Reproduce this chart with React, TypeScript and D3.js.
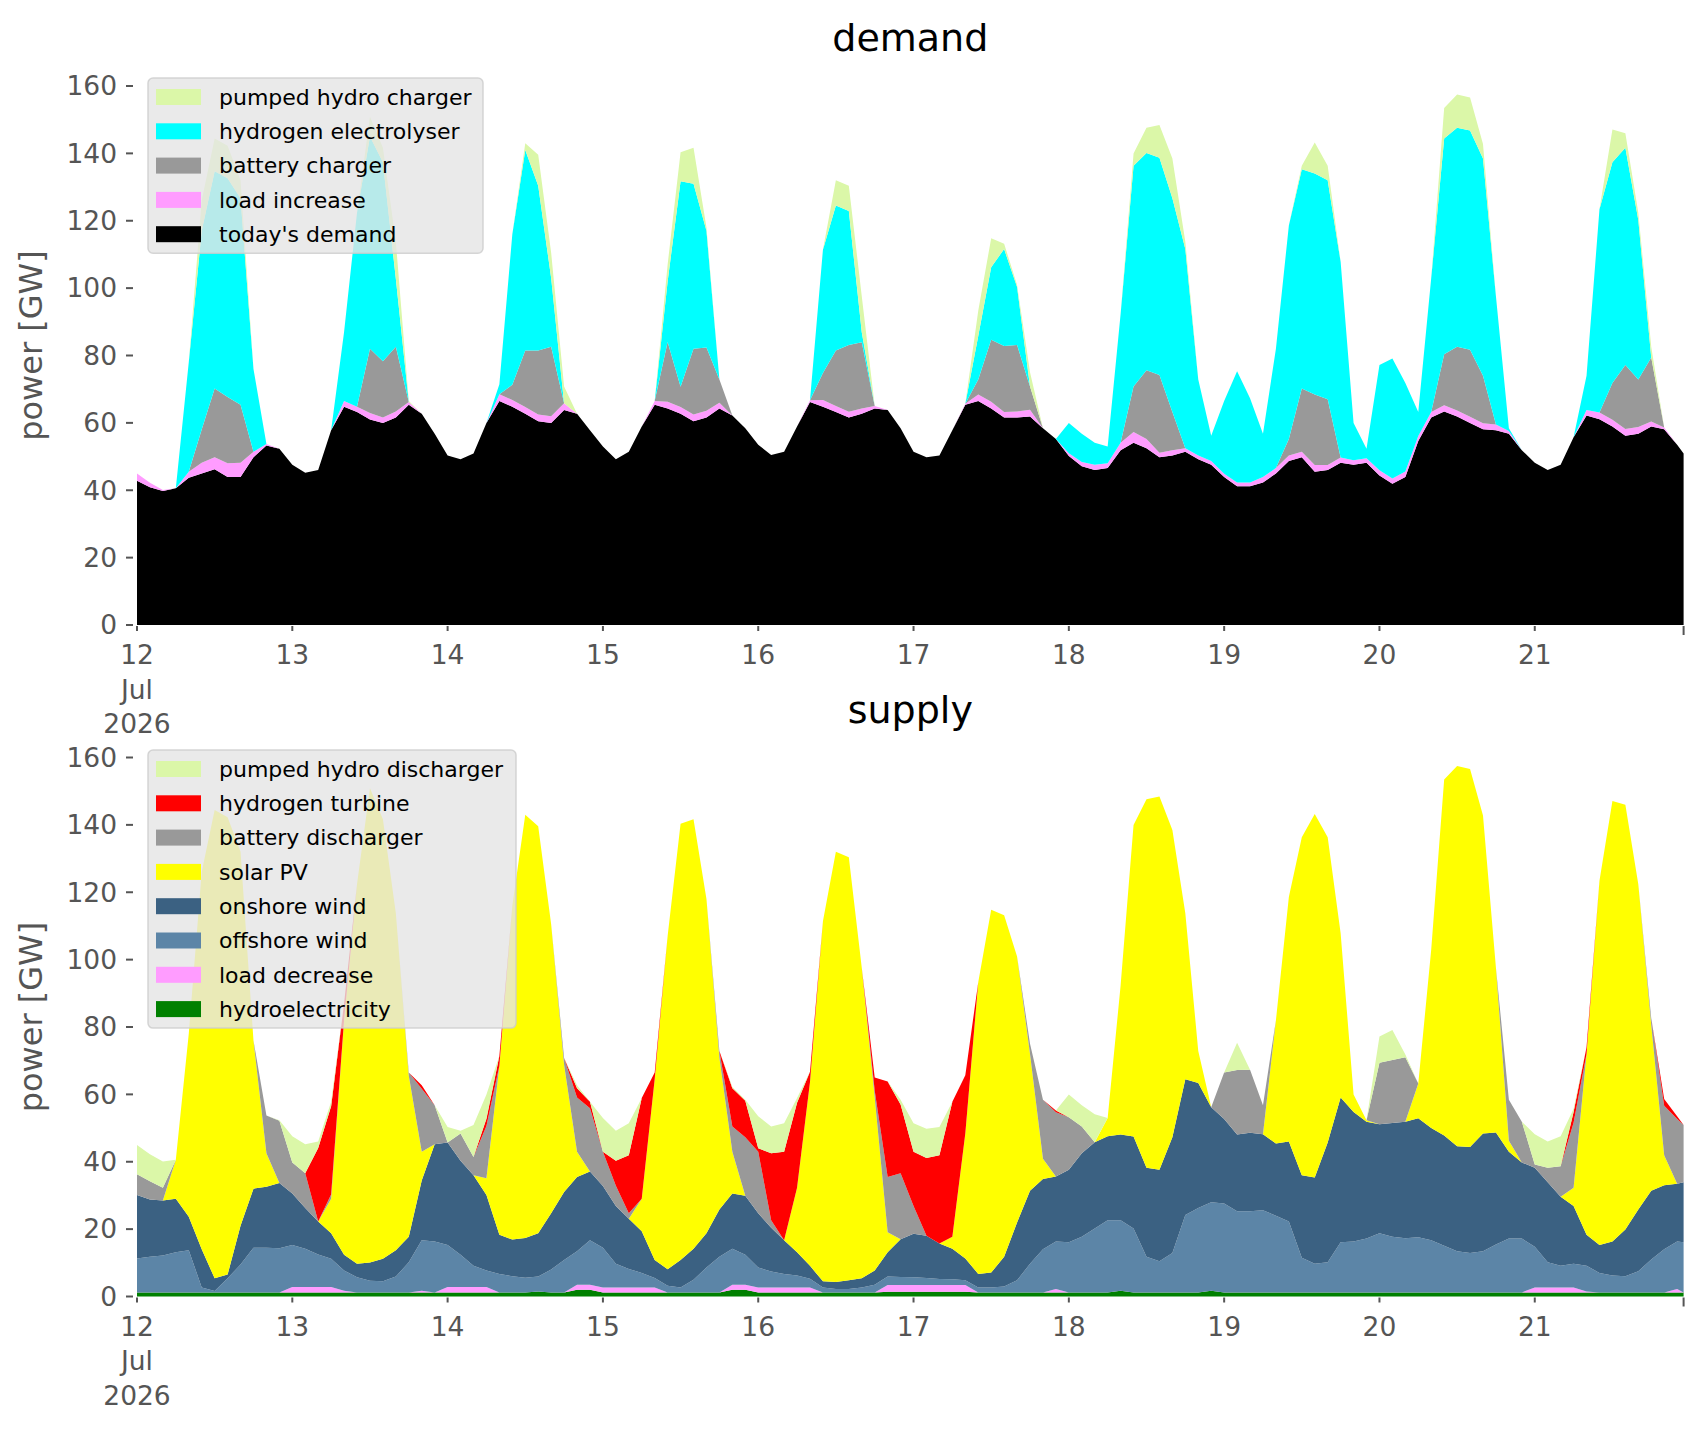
import { useRef, useEffect } from 'react';
import * as d3 from 'd3';

// snapshots read every two hours, plus the last hour of the window
const hours = [...d3.range(0, 240, 2), 239];
const start = Date.UTC(2026, 6, 12);
const times = hours.map(h => new Date(start + h * 3600 * 1000));
const dayTicks = d3.range(0, 10).map(d => new Date(start + d * 24 * 3600 * 1000));
const yTicks = d3.range(0, 161, 20);

// ---- demand (GW), one row per day ----
const todaysDemand = [
    42.8, 40.9, 39.8, 40.6, 43.7, 45, 46.2, 43.9, 43.9, 49.8, 53.3, 52.3,
    47.6, 45.2, 46, 57.8, 64.8, 63.2, 61, 60, 61.6, 65.4, 62.7, 56.8,
    50.3, 49.2, 50.9, 60, 66.5, 64.8, 62.7, 60.5, 60, 63.8, 62.7, 57.8,
    53, 49.2, 51.4, 58.9, 65.4, 64.3, 62.7, 60.5, 61.6, 64.3, 62.2, 58.4,
    53.5, 50.5, 51.4, 58.9, 66.2, 64.8, 63.2, 61.6, 62.7, 64.3, 63.8, 58.4,
    51.4, 49.8, 50.3, 57.8, 65.4, 66.5, 64.3, 61.6, 61.6, 61.9, 58.4, 55.2,
    50.2, 47.1, 46, 46.6, 51.9, 54.1, 52.5, 49.8, 50.3, 51.4, 49.2, 47.6,
    43.9, 41.2, 41.2, 42.3, 45, 48.7, 49.8, 45.5, 46, 48.2, 47.6, 48.2,
    44.4, 41.9, 43.9, 54.6, 61.6, 63.4, 61.9, 60, 58.1, 57.8, 56.8, 51.9,
    48.2, 46, 47.6, 55.7, 62.2, 61.1, 58.9, 56.2, 56.8, 58.9, 58.1, 53.5, 50.9,
];
const loadIncrease = [
    2.2, 1.3, 0.3, 0, 1.8, 3.2, 3.6, 4.1, 4.3, 1.6, 0.4, 0,
    0, 0, 0, 0, 1.7, 1.6, 1.9, 1.6, 1.8, 0.8, 0, 0,
    0, 0, 0, 0, 2, 2, 2, 2, 2, 2, 0, 0,
    0, 0, 0, 0, 1.1, 2, 2, 2, 2, 1.7, 0, 0,
    0, 0, 0, 0, 0.5, 2, 1.8, 1.7, 1.6, 0.7, 0, 0,
    0, 0, 0, 0, 0.3, 1.9, 2, 1.6, 1.8, 2, 0, 0,
    0.8, 1.3, 1.6, 1.4, 2.2, 3.2, 2.7, 1.3, 1.6, 1.1, 1.1, 1.1,
    1, 1.1, 1.1, 1.6, 1.6, 1.6, 1.6, 2, 1.5, 1.5, 1.3, 1.3,
    1.5, 1.6, 1.7, 1.5, 1.6, 1.8, 1.8, 1.8, 1.8, 1.7, 0.8, 0,
    0, 0, 0, 0, 1.6, 2, 2, 2, 2, 1.5, 0.5, 0, 0,
];
const batteryCharger = [
    0, 0, 0, 0, 0, 9.8, 20.4, 19.7, 17.2, 0, 0, 0,
    0, 0, 0, 0, 0, 0, 19.1, 16.7, 19.2, 0, 0, 0,
    0, 0, 0, 0, 0, 4.5, 16.8, 19, 20.6, 0, 0, 0,
    0, 0, 0, 0, 0, 17.7, 6, 19.5, 18.8, 6.9, 0, 0,
    0, 0, 0, 0, 0, 8, 16.5, 19.8, 19.6, 0, 0, 0,
    0, 0, 0, 0, 0, 4.5, 18.4, 19.6, 19.7, 6.9, 0, 0,
    0, 0, 0, 0, 0, 13.5, 20.4, 23.1, 11.3, 0, 0, 0,
    0, 0, 0, 0, 0, 4.9, 18.8, 20.9, 19.5, 0, 0, 0,
    0, 0, 0, 0, 0, 15.2, 18.9, 19.9, 14.1, 0, 0, 0,
    0, 0, 0, 0, 0, 0, 10.9, 19, 14.1, 19, 0, 0, 0,
];
const hydrogenElectrolyser = [
    0, 0, 0, 0, 32.5, 59, 64.5, 64.9, 61.3, 24.6, 0, 0,
    0, 0, 0, 0, 20.5, 57.6, 63, 59.1, 20.2, 0, 0, 0,
    0, 0, 0, 0, 3, 44.7, 59.5, 48.9, 20.4, 0, 0, 0,
    0, 0, 0, 0, 0, 18, 61, 49, 34.6, 0, 0, 0,
    0, 0, 0, 0, 0, 36.6, 43, 39.8, 3, 0, 0, 0,
    0, 0, 0, 0, 0, 12.9, 21.5, 28.8, 17.2, 0, 0, 0,
    9, 8.4, 6.5, 5, 38.2, 65.5, 64.5, 64.5, 63.5, 59.1, 22.6, 7.5,
    21.6, 33, 25, 12.9, 35.4, 63.4, 65.1, 65.6, 65, 58.1, 11.1, 2.8,
    31.3, 35.6, 26.2, 7.1, 39.8, 64, 65, 65.1, 64.5, 38.1, 0.8, 0,
    0, 0, 0, 0, 10.2, 60.3, 65.6, 64.5, 47.3, 0, 0, 0, 0,
];
const pumpedHydroCharger = [
    0, 0, 0, 0, 0, 9, 9.7, 9.7, 5.3, 0, 0, 0,
    0, 0, 0, 0, 0, 0, 5.9, 4.3, 11, 0.3, 0, 0,
    0, 0, 0, 0, 0, 0, 2, 9.2, 7.5, 5, 0, 0,
    0, 0, 0, 0, 0, 5, 8.6, 10.7, 1, 0, 0, 0,
    0, 0, 0, 0, 0, 0, 7.5, 7.5, 10.7, 0, 0, 0,
    0, 0, 0, 0, 0, 7.5, 8.6, 1.6, 0.6, 4.2, 0, 0,
    0, 0, 0, 0, 0, 3.7, 7.5, 9.7, 11.8, 2.2, 0, 0,
    0, 0, 0, 0, 0, 0, 1, 9.2, 4.3, 0, 0, 0,
    0, 0, 0, 0, 0, 9.1, 9.9, 9.8, 4.3, 0, 0, 0,
    0, 0, 0, 0, 0, 0, 9.7, 4.3, 2.2, 3.2, 0, 0, 0,
];

// ---- supply (GW) ----
const hydroelectricity = [
    1.2, 1.2, 1.2, 1.2, 1.2, 1.2, 1.2, 1.2, 1.2, 1.2, 1.2, 1.2,
    1.2, 1.2, 1.2, 1.2, 1.2, 1.2, 1.2, 1.2, 1.2, 1.2, 1.2, 1.2,
    1.2, 1.2, 1.2, 1.2, 1.2, 1.2, 1.2, 1.5, 1.2, 1.2, 2, 2,
    1.2, 1.2, 1.2, 1.2, 1.2, 1.2, 1.2, 1.2, 1.2, 1.2, 2, 2,
    1.2, 1.2, 1.2, 1.2, 1.2, 1.2, 1.2, 1.2, 1.2, 1.2, 1.4, 1.4,
    1.4, 1.4, 1.4, 1.4, 1.4, 1.2, 1.2, 1.2, 1.2, 1.2, 1.2, 1.2,
    1.2, 1.2, 1.2, 1.2, 1.7, 1.2, 1.2, 1.2, 1.2, 1.2, 1.2, 1.7,
    1.2, 1.2, 1.2, 1.2, 1.2, 1.2, 1.2, 1.2, 1.2, 1.2, 1.2, 1.2,
    1.2, 1.2, 1.2, 1.2, 1.2, 1.2, 1.2, 1.2, 1.2, 1.2, 1.2, 1.2,
    1.2, 1.2, 1.2, 1.2, 1.2, 1.2, 1.2, 1.2, 1.2, 1.2, 1.2, 1.2, 1.2,
];
const loadDecrease = [
    0, 0, 0, 0, 0, 0, 0, 0, 0, 0, 0, 0,
    1.6, 1.6, 1.6, 1.6, 0.5, 0, 0, 0, 0, 0, 0.5, 0,
    1.6, 1.6, 1.6, 1.6, 0, 0, 0, 0, 0, 0, 1.5, 1.5,
    1.5, 1.5, 1.5, 1.5, 1.5, 0, 0, 0, 0, 0, 1.5, 1.5,
    1.5, 1.5, 1.5, 1.5, 1.5, 0, 0, 0, 0, 0, 2, 2,
    2, 2, 2, 2, 2, 0, 0, 0, 0, 0, 0, 1,
    0, 0, 0, 0, 0, 0, 0, 0, 0, 0, 0, 0,
    0, 0, 0, 0, 0, 0, 0, 0, 0, 0, 0, 0,
    0, 0, 0, 0, 0, 0, 0, 0, 0, 0, 0, 0,
    1.5, 1.5, 1.5, 1.5, 0.3, 0, 0, 0, 0, 0, 0, 1, 0,
];
const offshoreWind = [
    10.1, 10.6, 11, 11.9, 12.5, 1.5, 0.4, 4.2, 8.3, 13.3, 13.3, 13.1,
    12.5, 11.4, 9.7, 8.4, 6, 4.5, 3.5, 3.3, 4.7, 9, 15, 15.1,
    12.5, 9.6, 6.3, 4.9, 5.5, 4.8, 4.4, 4.4, 6.8, 9.6, 9.9, 13.2,
    11.8, 7, 5.5, 4.3, 2.8, 2, 1.5, 3.8, 7.4, 10.6, 10.7, 8.9,
    5.9, 4.7, 4, 3.5, 2.6, 1.5, 1, 1, 1.5, 2.3, 2.5, 2.4,
    2.3, 2.1, 1.8, 1.7, 1.4, 1.5, 1.5, 1.8, 3.6, 8.5, 12.8, 14.1,
    14.9, 16.5, 19, 21.4, 20.9, 19, 10.6, 9.3, 11.7, 23, 25.1, 26.3,
    26.4, 24.1, 24.1, 24.4, 22.8, 21.1, 10.3, 8.5, 9, 14.9, 15.1, 16,
    17.6, 16.5, 16.1, 16.4, 15.5, 13.9, 12.2, 11.7, 12.2, 14.2, 16, 16,
    12.1, 7.5, 6.4, 7, 7.6, 5.8, 5, 4.8, 6.3, 9.8, 12.8, 14.1, 14.9,
];
const onshoreWind = [
    18.8, 17, 16.3, 15.9, 10, 11.3, 3.8, 1.1, 11.5, 17.5, 18.1, 19.4,
    15.3, 12.1, 9.8, 7.6, 4.7, 4, 5.4, 6.7, 7.8, 7.5, 17.7, 28.9,
    30.4, 27.9, 26.9, 22.4, 11.6, 10.9, 11.8, 12.9, 16.7, 20.2, 22.1, 20.4,
    18.3, 17.2, 14.9, 12.4, 5.3, 4.9, 8.1, 9.2, 10.2, 14, 16.4, 17.5,
    16.1, 13, 10, 6.9, 3.8, 1.8, 2.1, 2.6, 2.7, 4.2, 7.2, 11.2,
    12.9, 12.5, 10.5, 9.1, 6.5, 4, 4.4, 8.8, 17.2, 21.7, 20.9, 19.3,
    21.5, 24.8, 25.6, 25, 25.5, 27.3, 26.4, 27.1, 34.4, 40.3, 37.1, 28.2,
    25.1, 22.8, 23.3, 22.6, 21.4, 23.7, 24.5, 25.6, 35.5, 43, 38.5, 34.7,
    32.3, 33.8, 34.6, 35.3, 33.3, 32.7, 31.2, 31.5, 35, 33.3, 25.8, 22.6,
    23.4, 23.7, 20.5, 17.2, 9.2, 8.3, 10.1, 13.9, 18.3, 20.4, 19, 17.2, 17.8,
];
const solarPV = [
    0, 0, 0, 11.6, 54.3, 112, 139, 135.8, 111, 44, 9.9, 0,
    0, 0, 0, 10.2, 69.6, 112.7, 140.8, 130.5, 100.1, 47.8, 8.6, 0,
    0, 0, 0, 5, 50.2, 99.1, 125.6, 120.8, 85.8, 37.8, 7.5, 0,
    0, 0, 0, 9.6, 53.7, 98.9, 129.5, 127.5, 99.2, 45.1, 12.4, 0,
    0, 0, 0, 19.2, 54.6, 106.9, 127.7, 125.6, 92.2, 51.4, 6, 0,
    0, 0, 0, 3.5, 37.1, 86.6, 107.7, 101.4, 78.9, 40.6, 6, 0,
    0, 0, 0, 5.4, 44.2, 92.5, 109.4, 110.8, 91.2, 49.3, 9.5, 0,
    0, 0, 0, 0, 36.6, 72.6, 100.3, 107.9, 90.6, 48.7, 5.2, 0.4,
    0, 0, 0, 10.3, 53, 105.7, 112.9, 112.2, 94.4, 48.9, 3.2, 0,
    0, 0, 0, 5.4, 53.7, 108.1, 130.8, 126.1, 96.6, 49.2, 8.9, 0, 0,
];
const batteryDischarger = [
    6.2, 5.4, 3.8, 0, 0, 0, 0, 0, 0, 0, 11.2, 18.5,
    9.2, 10.3, 0, 1.3, 0, 0, 0, 0, 0, 1, 18.7, 11.6,
    0, 8.1, 5.4, 15.5, 0, 0, 0, 0, 0, 2, 16.1, 18.8,
    10.2, 6, 1.6, 0, 0, 0, 0, 0, 0, 2, 7.5, 17.4,
    18.3, 2.2, 0, 0, 0, 0, 0, 0, 0, 2, 16.4, 19.6,
    8.3, 0, 0, 0, 0, 0, 0, 0, 0, 3, 17.5, 19.1,
    15.6, 8, 0, 0, 0, 0, 0, 0, 0, 0, 0, 0,
    13.8, 19.1, 18.7, 8.6, 0, 0, 0, 0, 0, 0, 0, 0,
    18.3, 18.7, 19.1, 0, 0, 0, 0, 0, 0, 0, 12.2, 12.1,
    1, 4.3, 9.1, 19.3, 0, 0, 0, 0, 0, 2, 14.7, 19.2, 17,
];
const hydrogenTurbine = [
    0, 0, 0, 0, 0, 0, 0, 0, 0, 0, 0, 0,
    0, 0, 21.8, 26.2, 5, 0, 0, 0, 0, 0, 1, 0,
    0, 0, 0, 2.2, 3, 0, 0, 0, 0, 0, 2.7, 1.9,
    0, 7.4, 17.2, 29.9, 2, 0, 0, 0, 0, 0, 11.3, 10.8,
    1, 19.9, 26.3, 25.2, 3, 0, 0, 0, 0, 3.9, 28.3, 20.4,
    16.1, 23.1, 26.2, 40.1, 17.3, 0, 0, 0, 0, 0, 0, 0.5,
    0, 0, 0, 0, 0, 0, 0, 0, 0, 0, 0, 0,
    0, 0, 0, 0, 0, 0, 0, 0, 0, 0, 0, 0,
    0, 0, 0, 0, 0, 0, 0, 0, 0, 0, 0, 0,
    0, 0, 0, 3.2, 2, 0, 0, 0, 0, 0, 2, 0.8, 0,
];
const pumpedHydroDischarger = [
    8.7, 8, 7.8, 0, 0, 0, 0, 0, 0, 0, 0, 0.1,
    7.8, 8.6, 1.9, 1.3, 0, 0, 0, 0, 0, 0, 0, 0,
    4.6, 0.8, 9.5, 7.2, 0, 0, 0, 0, 0, 0, 0.9, 0,
    10, 8.9, 9.5, 0, 0, 0, 0, 0, 0, 0, 0.4, 0.3,
    9.5, 8, 8.4, 1.4, 0, 0, 0, 0, 0, 0, 0, 1.4,
    8.4, 8.7, 8.4, 0, 0, 0, 0, 0, 0, 0, 0, 0,
    6.8, 6.3, 8.3, 0, 0, 0, 0, 0, 0, 0, 0, 0,
    0, 8.1, 0, 0, 0, 0, 0, 0, 0, 0, 0, 0,
    7.8, 8.9, 0.8, 0, 0, 0, 0, 0, 0, 0, 0, 0,
    9, 7.8, 8.9, 0.9, 0, 0, 0, 0, 0, 0, 0, 0, 0,
];

interface Layer { name: string; color: string; values: number[] }

// stacking order, bottom -> top
const demandLayers: Layer[] = [
    { name: "today's demand", color: '#000000', values: todaysDemand },
    { name: 'load increase', color: '#ff9cff', values: loadIncrease },
    { name: 'battery charger', color: '#999999', values: batteryCharger },
    { name: 'hydrogen electrolyser', color: '#00ffff', values: hydrogenElectrolyser },
    { name: 'pumped hydro charger', color: '#dbf7a8', values: pumpedHydroCharger },
];
const supplyLayers: Layer[] = [
    { name: 'hydroelectricity', color: '#008000', values: hydroelectricity },
    { name: 'load decrease', color: '#ff9cff', values: loadDecrease },
    { name: 'offshore wind', color: '#5c85a7', values: offshoreWind },
    { name: 'onshore wind', color: '#3b6182', values: onshoreWind },
    { name: 'solar PV', color: '#ffff00', values: solarPV },
    { name: 'battery discharger', color: '#999999', values: batteryDischarger },
    { name: 'hydrogen turbine', color: '#ff0000', values: hydrogenTurbine },
    { name: 'pumped hydro discharger', color: '#dbf7a8', values: pumpedHydroDischarger },
];

const W = 1706;
const H = 1431;
const FONT = 'DejaVu Sans';
const TICK = '#555555';

export default function App() {
    const svgRef = useRef<SVGSVGElement>(null);

    useEffect(() => {
        if (!svgRef.current) return;
        const svg = d3.select(svgRef.current);
        svg.selectAll('*').remove();

        const left = 137;
        const right = 1683.6;
        const x = d3.scaleUtc()
            .domain([times[0], times[times.length - 1]])
            .range([left, right]);

        const panels = [
            { title: 'demand', layers: demandLayers, base: 625, legend: { y: 78, w: 335 } },
            { title: 'supply', layers: supplyLayers, base: 1296.5, legend: { y: 750, w: 368 } },
        ];

        panels.forEach(p => {
            const y = d3.scaleLinear().domain([0, 160]).range([p.base, p.base - 539]);
            const top = y(165.9);
            const g = svg.append('g');

            // stacked areas
            const rows = times.map((t, i) => {
                const r: Record<string, any> = { t };
                p.layers.forEach(l => { r[l.name] = l.values[i]; });
                return r;
            });
            const stacked = d3.stack<Record<string, any>>().keys(p.layers.map(l => l.name))(rows);
            const area = d3.area<d3.SeriesPoint<Record<string, any>>>()
                .x(d => x(d.data.t))
                .y0(d => y(d[0]))
                .y1(d => y(d[1]));
            g.append('g')
                .selectAll('path')
                .data(stacked)
                .join('path')
                .attr('d', area)
                .attr('fill', (_, i) => p.layers[i].color);

            // y axis
            yTicks.forEach(v => {
                g.append('line')
                    .attr('x1', 126).attr('x2', 133)
                    .attr('y1', y(v)).attr('y2', y(v))
                    .attr('stroke', TICK).attr('stroke-width', 2);
                g.append('text')
                    .attr('x', 117).attr('y', y(v)).attr('dy', '0.35em')
                    .attr('text-anchor', 'end')
                    .attr('font-family', FONT).attr('font-size', 26.5)
                    .attr('fill', TICK)
                    .text(v);
            });
            const midY = (top + p.base) / 2;
            g.append('text')
                .attr('transform', `translate(42,${midY}) rotate(-90)`)
                .attr('text-anchor', 'middle')
                .attr('font-family', FONT).attr('font-size', 32)
                .attr('fill', TICK)
                .text('power [GW]');

            // x axis
            dayTicks.forEach((d, i) => {
                const px = x(d);
                g.append('line')
                    .attr('x1', px).attr('x2', px)
                    .attr('y1', p.base + 1).attr('y2', p.base + 6)
                    .attr('stroke', TICK).attr('stroke-width', 2);
                const lines = i === 0 ? ['12', 'Jul', '2026'] : [String(d.getUTCDate())];
                lines.forEach((s, k) => {
                    g.append('text')
                        .attr('x', px).attr('y', p.base + 39 + k * 34.5)
                        .attr('text-anchor', 'middle')
                        .attr('font-family', FONT).attr('font-size', 26.5)
                        .attr('fill', TICK)
                        .text(s);
                });
            });
            g.append('line')
                .attr('x1', right).attr('x2', right)
                .attr('y1', p.base + 1).attr('y2', p.base + 10)
                .attr('stroke', TICK).attr('stroke-width', 2);

            // title
            g.append('text')
                .attr('x', (left + right) / 2).attr('y', top - 15)
                .attr('text-anchor', 'middle')
                .attr('font-family', FONT).attr('font-size', 38)
                .attr('fill', '#000')
                .text(p.title);

            // legend, top entry first
            const entries = [...p.layers].reverse();
            const lg = g.append('g');
            const boxH = 38 + (entries.length - 1) * 34.3;
            lg.append('rect')
                .attr('x', 148).attr('y', p.legend.y)
                .attr('width', p.legend.w).attr('height', boxH)
                .attr('rx', 5)
                .attr('fill', '#e5e5e5').attr('fill-opacity', 0.8)
                .attr('stroke', '#cccccc').attr('stroke-opacity', 0.8)
                .attr('stroke-width', 1.5);
            entries.forEach((l, i) => {
                const cy = p.legend.y + 19 + i * 34.3;
                lg.append('rect')
                    .attr('x', 156).attr('y', cy - 8)
                    .attr('width', 45).attr('height', 16)
                    .attr('fill', l.color);
                lg.append('text')
                    .attr('x', 219).attr('y', cy).attr('dy', '0.35em')
                    .attr('font-family', FONT).attr('font-size', 22)
                    .attr('fill', '#000')
                    .text(l.name);
            });
        });
    }, []);

    return (
        <svg
            ref={svgRef}
            width={W}
            height={H}
            style={{ position: 'absolute', left: 0, top: 0, background: '#fff' }}
        />
    );
}
